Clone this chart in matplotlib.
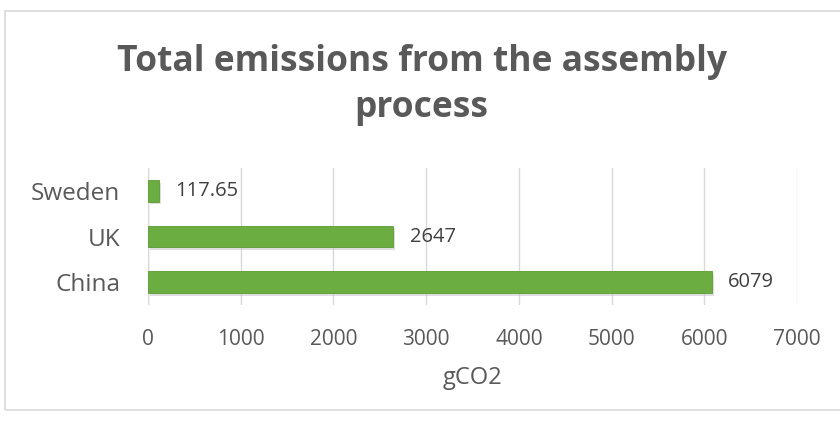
import matplotlib.pyplot as plt
from matplotlib.patches import Rectangle

countries = ['China', 'UK', 'Sweden']
emissions = [6079, 2647, 117.65]
labels = ['6079', '2647', '117.65']
xticks = [0, 1000, 2000, 3000, 4000, 5000, 6000, 7000]

plt.rcParams['font.family'] = ['Open Sans', 'DejaVu Sans']
grey = '#595959'

fig = plt.figure(figsize=(8.4, 4.25), dpi=100)
ax = fig.add_axes([0.176, 0.282, 0.773, 0.323])

# chart frame
fig.patches.append(Rectangle((0.006, 0.035), 1.2, 0.94, transform=fig.transFigure,
                             fill=False, edgecolor='#d9d9d9', linewidth=1.2))

ypos = list(range(len(countries)))
# soft shadow under bars
ax.barh([y - 0.06 for y in ypos], emissions, height=0.48, left=20,
        color='#bfbfbf', alpha=0.5, zorder=2)
bars = ax.barh(ypos, emissions, height=0.48, color='#6cad42',
               edgecolor='#5c9a35', linewidth=0.6, zorder=3)
for b, t in zip(bars, labels):
    ax.text(b.get_width() + 175, b.get_y() + b.get_height() / 2, t,
            va='center', ha='left', fontsize=14.5, color='#404040')

ax.set_xlim(0, 7000)
ax.set_ylim(-0.5, 2.5)
ax.set_xticks(xticks)
ax.set_yticks(ypos)
ax.set_yticklabels(countries, fontsize=17.5, color=grey)
ax.tick_params(axis='x', labelsize=15, colors=grey, length=0, pad=17)
ax.tick_params(axis='y', length=0, pad=20)
ax.xaxis.grid(True, color='#d9d9d9', linewidth=1)
ax.set_axisbelow(True)
for s in ax.spines.values():
    s.set_visible(False)
ax.axvline(0, color='#d9d9d9', linewidth=1, zorder=1)
ax.set_xlabel('gCO2', fontsize=17, color=grey, labelpad=12)

fig.text(0.502, 0.8, 'Total emissions from the assembly\nprocess', ha='center',
         va='center', fontsize=25.5, fontweight='bold', color=grey, linespacing=1.4)

fig.savefig('out.png', dpi=100)
